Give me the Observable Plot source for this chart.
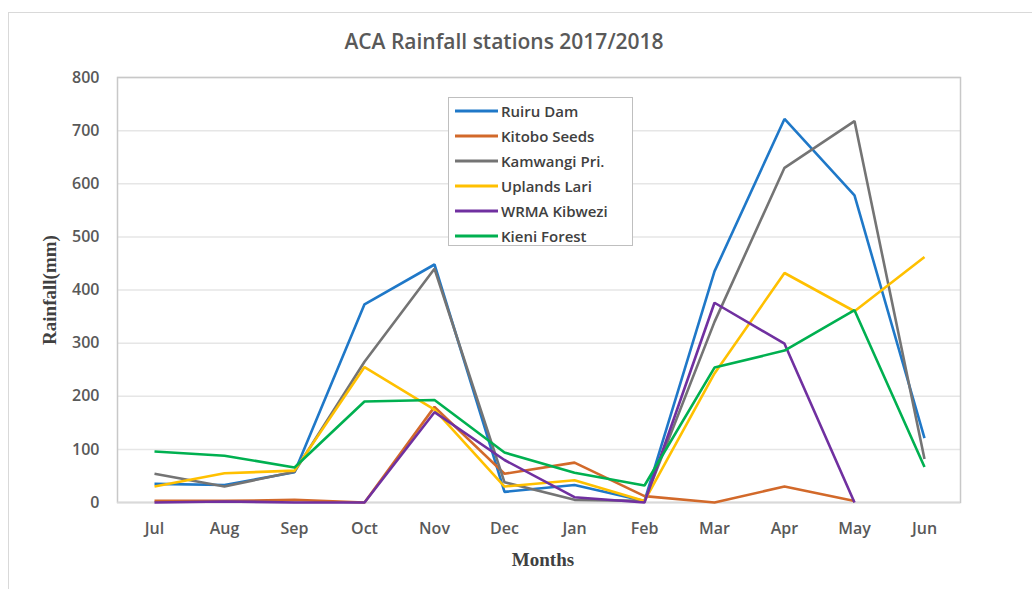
<!DOCTYPE html>
<html>
<head>
<meta charset="utf-8">
<script src="https://cdn.jsdelivr.net/npm/d3@7"></script>
<script src="https://cdn.jsdelivr.net/npm/@observablehq/plot@0.6"></script>
<style>
  html, body { margin: 0; padding: 0; background: #fff; }
  #wrap { position: relative; width: 1032px; height: 589px; overflow: hidden; }
  #outer { position: absolute; left: 8px; top: 12px; width: 1100px; height: 700px; border: 1px solid #d9d9d9; box-sizing: border-box; }
  #title { position: absolute; top: 27px; left: 0; width: 1008px; text-align: center; font-family: "Open Sans", sans-serif; font-weight: 600; font-size: 21px; color: #595959; }
  #ylab { position: absolute; left: 50px; top: 290px; transform: translate(-50%, -50%) rotate(-90deg); font-family: "Liberation Serif", serif; font-weight: bold; font-size: 19px; color: #404040; white-space: nowrap; }
  #xlab { position: absolute; left: 543px; top: 560px; transform: translate(-50%, -50%); font-family: "Liberation Serif", serif; font-weight: bold; font-size: 19px; color: #404040; white-space: nowrap; }
  #legend { position: absolute; left: 448px; top: 97px; width: 185px; height: 149px; border: 1px solid #bfbfbf; box-sizing: border-box; background: #fff; padding-top: 0px; }
  .li { display: flex; align-items: center; height: 25px; font-family: "Open Sans", sans-serif; font-weight: 600; font-size: 15px; color: #404040; }
  .li svg { margin-left: 6px; margin-right: 3px; }
  svg.plot { position: absolute; left: 0; top: 0; }
</style>
</head>
<body>
<div id="wrap">
  <div id="outer"></div>
  <div id="title">ACA Rainfall stations 2017/2018</div>
  <div id="ylab">Rainfall(mm)</div>
  <div id="xlab">Months</div>
</div>
<script>
const months = ["Jul","Aug","Sep","Oct","Nov","Dec","Jan","Feb","Mar","Apr","May","Jun"];
const seriesNames = ["Ruiru Dam","Kitobo Seeds","Kamwangi Pri.","Uplands Lari","WRMA Kibwezi","Kieni Forest"];
const seriesColors = ["#1f78c8","#d2692a","#747474","#ffc000","#7030a0","#00b050"];
const ruiruDam     = [35, 33, 57, 373, 448, 20, 33, 3, 435, 722, 578, 121];
const kitoboSeeds  = [3, 3, 5, 0, 180, 54, 75, 12, 0, 30, 3, null];
const kamwangiPri  = [54, 30, 58, 265, 440, 38, 5, 3, 340, 630, 718, 82];
const uplandsLari  = [30, 55, 60, 255, 175, 30, 42, 3, 243, 432, 360, 462];
const wrmaKibwezi  = [0, 2, 0, 0, 170, 80, 10, 0, 376, 299, 0, null];
const kieniForest  = [96, 88, 66, 190, 193, 94, 56, 32, 254, 286, 362, 67];
const yTicks = [0, 100, 200, 300, 400, 500, 600, 700, 800];

const allSeries = [ruiruDam, kitoboSeeds, kamwangiPri, uplandsLari, wrmaKibwezi, kieniForest];
const data = [];
allSeries.forEach((vals, si) => {
  vals.forEach((v, mi) => data.push({series: seriesNames[si], month: months[mi], value: v}));
});

const chart = Plot.plot({
  width: 1032,
  height: 589,
  marginLeft: 117,
  marginRight: 72,
  marginTop: 77,
  marginBottom: 87,
  style: {background: "transparent", fontFamily: "'Open Sans', sans-serif", fontSize: "16px", color: "#595959"},
  x: {type: "point", domain: months, padding: 0.5, label: null},
  y: {domain: [0, 800], ticks: yTicks, label: null},
  color: {domain: seriesNames, range: seriesColors},
  marks: [
    Plot.gridY(yTicks, {stroke: "#e6e6e6", strokeOpacity: 1, strokeWidth: 1.5}),
    Plot.frame({stroke: "#c8c8c8", strokeWidth: 1.5}),
    Plot.ruleY([0], {stroke: "#d9d9d9", strokeWidth: 1.5}),
    Plot.axisY({ticks: yTicks, tickSize: 0, tickPadding: 18, fontWeight: 600, fill: "#595959"}),
    Plot.axisX({tickSize: 0, tickPadding: 20, fontWeight: 600, fill: "#595959"}),
    Plot.line(data, {x: "month", y: "value", z: "series", stroke: "series", strokeWidth: 2.6, strokeLinejoin: "miter", strokeLinecap: "butt"})
  ]
});
chart.classList.add("plot");
const wrap = document.getElementById("wrap");
wrap.insertBefore(chart, document.getElementById("title"));

const legend = document.createElement("div");
legend.id = "legend";
seriesNames.forEach((name, i) => {
  const row = document.createElement("div");
  row.className = "li";
  row.innerHTML = `<svg width="43" height="6"><line x1="0" x2="43" y1="3" y2="3" stroke="${seriesColors[i]}" stroke-width="3"/></svg><span>${name}</span>`;
  legend.appendChild(row);
});
wrap.appendChild(legend);
</script>
</body>
</html>
